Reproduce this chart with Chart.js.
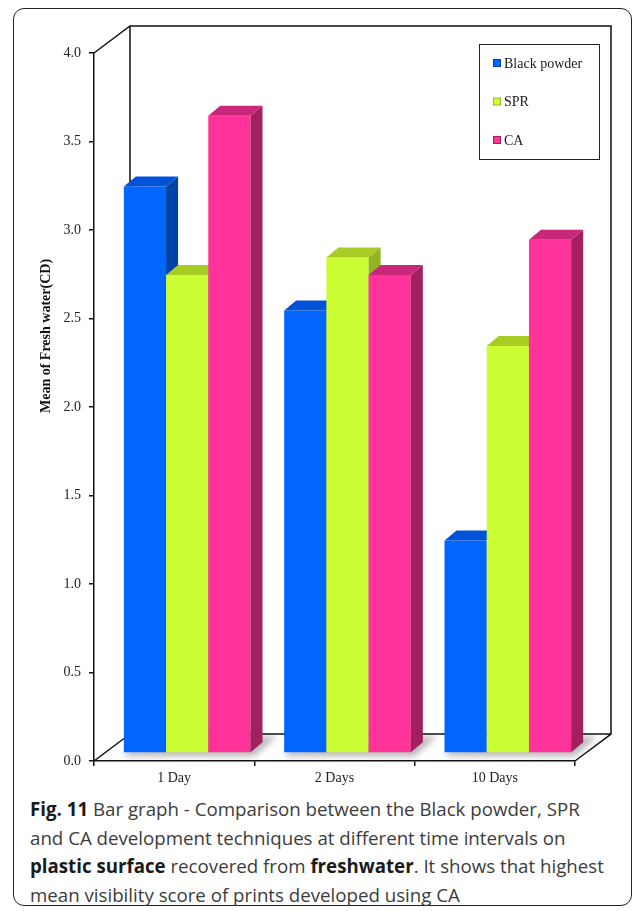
<!DOCTYPE html>
<html>
<head>
<meta charset="utf-8">
<script src="https://cdn.jsdelivr.net/npm/chart.js@4.4.0/dist/chart.umd.min.js"></script>
<style>
  body { margin: 0; background: #fff; }
  #frame {
    position: absolute; left: 13px; top: 8px; width: 617px; height: 896px;
    border: 1.5px solid #222; border-radius: 11px;
  }
  #myChart { position: absolute; left: 0; top: 0; }
  #caption {
    position: absolute; left: 30px; top: 795px; width: 600px;
    font-family: "Open Sans", sans-serif; font-size: 18.7px; line-height: 28.5px;
    color: #3c3c3c; white-space: nowrap;
  }
  #caption b { color: #1a1a1a; }
</style>
</head>
<body>
<div id="frame"></div>
<canvas id="myChart" width="635" height="795"></canvas>
<div id="caption">
  <b>Fig. 11</b> Bar graph - Comparison between the Black powder, SPR<br>
  and CA development techniques at different time intervals on<br>
  <b>plastic surface</b> recovered from <b>freshwater</b>. It shows that highest<br>
  mean visibility score of prints developed using CA
</div>
<script>
var xValues = ["1 Day", "2 Days", "10 Days"];
var blackPowder = [3.2, 2.5, 1.2];
var spr = [2.7, 2.8, 2.3];
var ca = [3.6, 2.7, 2.9];
var seriesNames = ["Black powder", "SPR", "CA"];

// front, side, top colours for each series
var frontColors = ["#0066ff", "#ccff33", "#ff3399"];
var sideColors = ["#0043a8", "#93b322", "#a31f5d"];
var topColors = ["#0052d6", "#a9cc24", "#c8287a"];

var DEPTH = {x: 36, y: -27};      // depth of the 3d box (walls/floor)
var SHIFT = {x: 13, y: -8};       // bars sit a bit back from the front plane
var BAR_DEPTH = {x: 12, y: -10};  // depth of each bar

var box3d = {
  id: "box3d",
  beforeDatasetsDraw: function(chart) {
    var ctx = chart.ctx, a = chart.chartArea;
    ctx.save();
    // floor shadow under the bar groups
    ctx.beginPath();
    ctx.moveTo(a.left, a.bottom);
    ctx.lineTo(a.right, a.bottom);
    ctx.lineTo(a.right + DEPTH.x, a.bottom + DEPTH.y);
    ctx.lineTo(a.left + DEPTH.x, a.bottom + DEPTH.y);
    ctx.closePath();
    ctx.clip();
    var first = chart.getDatasetMeta(0).data;
    var last = chart.getDatasetMeta(2).data;
    ctx.filter = "blur(3px)";
    ctx.fillStyle = "rgba(0,0,0,0.28)";
    for (var i = 0; i < first.length; i++) {
      var l = first[i].x - first[i].width / 2 + SHIFT.x;
      var r = last[i].x + last[i].width / 2 + SHIFT.x;
      var b = first[i].base + SHIFT.y;
      ctx.beginPath();
      ctx.moveTo(l + 2, b + 4);
      ctx.lineTo(r + 4, b + 4);
      ctx.lineTo(r + BAR_DEPTH.x + 14, b + BAR_DEPTH.y - 6);
      ctx.lineTo(r + BAR_DEPTH.x, b + BAR_DEPTH.y - 6);
      ctx.lineTo(l + 2, b - 2);
      ctx.closePath();
      ctx.fill();
    }
    ctx.restore();

    // back wall + floor outline
    ctx.save();
    ctx.strokeStyle = "#111";
    ctx.lineWidth = 1.5;
    ctx.beginPath();
    ctx.moveTo(a.left, a.top);
    ctx.lineTo(a.left + DEPTH.x, a.top + DEPTH.y);
    ctx.lineTo(a.right + DEPTH.x, a.top + DEPTH.y);
    ctx.lineTo(a.right + DEPTH.x, a.bottom + DEPTH.y);
    ctx.lineTo(a.right, a.bottom);
    ctx.moveTo(a.left + DEPTH.x, a.top + DEPTH.y);
    ctx.lineTo(a.left + DEPTH.x, a.bottom + DEPTH.y);
    ctx.lineTo(a.right + DEPTH.x, a.bottom + DEPTH.y);
    ctx.moveTo(a.left, a.bottom);
    ctx.lineTo(a.left + DEPTH.x, a.bottom + DEPTH.y);
    ctx.stroke();
    ctx.restore();
  },
  // the library paints datasets last-to-first; paint them ourselves left to right
  beforeDatasetDraw: function() {
    return false;
  },
  afterDatasetsDraw: function(chart) {
    var ctx = chart.ctx;
    ctx.save();
    ctx.translate(SHIFT.x, SHIFT.y);
    chart.data.datasets.forEach(function(ds, k) {
      chart.getDatasetMeta(k).data.forEach(function(el) {
        el.draw(ctx);
        var p = el.getProps(["x", "y", "base", "width"], true);
        var l = p.x - p.width / 2, r = p.x + p.width / 2;
        ctx.fillStyle = sideColors[k];
        ctx.beginPath();
        ctx.moveTo(r, p.y);
        ctx.lineTo(r + BAR_DEPTH.x, p.y + BAR_DEPTH.y);
        ctx.lineTo(r + BAR_DEPTH.x, p.base + BAR_DEPTH.y);
        ctx.lineTo(r, p.base);
        ctx.closePath();
        ctx.fill();
        ctx.fillStyle = topColors[k];
        ctx.beginPath();
        ctx.moveTo(l, p.y);
        ctx.lineTo(r, p.y);
        ctx.lineTo(r + BAR_DEPTH.x, p.y + BAR_DEPTH.y);
        ctx.lineTo(l + BAR_DEPTH.x, p.y + BAR_DEPTH.y);
        ctx.closePath();
        ctx.fill();
      });
    });
    ctx.restore();
  },
  afterDraw: function(chart) {
    var ctx = chart.ctx;
    // y axis title
    ctx.save();
    ctx.translate(46, 336);
    ctx.rotate(-Math.PI / 2);
    ctx.font = 'bold 14px "Liberation Serif"';
    ctx.fillStyle = "#111";
    ctx.textAlign = "center";
    ctx.textBaseline = "middle";
    ctx.fillText("Mean of Fresh water(CD)", 0, 0);
    ctx.restore();

    // legend
    ctx.save();
    ctx.strokeStyle = "#222";
    ctx.lineWidth = 1;
    ctx.strokeRect(479.5, 44.5, 120, 115);
    ctx.font = '14px "Liberation Serif"';
    ctx.textBaseline = "middle";
    chart.data.datasets.forEach(function(ds, i) {
      var y = 63 + i * 38.5;
      ctx.fillStyle = sideColors[i];
      ctx.fillRect(493, y - 4, 8, 8);
      ctx.fillStyle = frontColors[i];
      ctx.fillRect(494, y - 3, 6, 6);
      ctx.fillStyle = "#1a1a1a";
      ctx.fillText(ds.label, 504, y + 1);
    });
    ctx.restore();
  }
};

new Chart("myChart", {
  type: "bar",
  data: {
    labels: xValues,
    datasets: [
      {label: seriesNames[0], data: blackPowder, backgroundColor: frontColors[0]},
      {label: seriesNames[1], data: spr, backgroundColor: frontColors[1]},
      {label: seriesNames[2], data: ca, backgroundColor: frontColors[2]}
    ]
  },
  options: {
    responsive: false,
    animation: false,
    events: [],
    clip: false,
    layout: {padding: {left: 0, top: 53, right: 60, bottom: 0}},
    datasets: {bar: {categoryPercentage: 0.79, barPercentage: 1.0, borderWidth: 0}},
    plugins: {legend: {display: false}, tooltip: {enabled: false}},
    scales: {
      x: {
        afterFit: function(s) { s.height = 34; },
        border: {color: "#111", width: 1.5},
        grid: {drawOnChartArea: false, tickLength: 5, color: "#111", lineWidth: 1.5},
        ticks: {font: {family: "Liberation Serif", size: 14}, color: "#222", padding: 4}
      },
      y: {
        min: 0,
        max: 4,
        afterFit: function(s) { s.width = 94; },
        border: {color: "#111", width: 1.5},
        grid: {drawOnChartArea: false, tickLength: 5, color: "#111", lineWidth: 1.5},
        ticks: {
          stepSize: 0.5,
          padding: 8,
          font: {family: "Liberation Serif", size: 14},
          color: "#222",
          callback: function(v) { return v.toFixed(1); }
        }
      }
    }
  },
  plugins: [box3d]
});
</script>
</body>
</html>
